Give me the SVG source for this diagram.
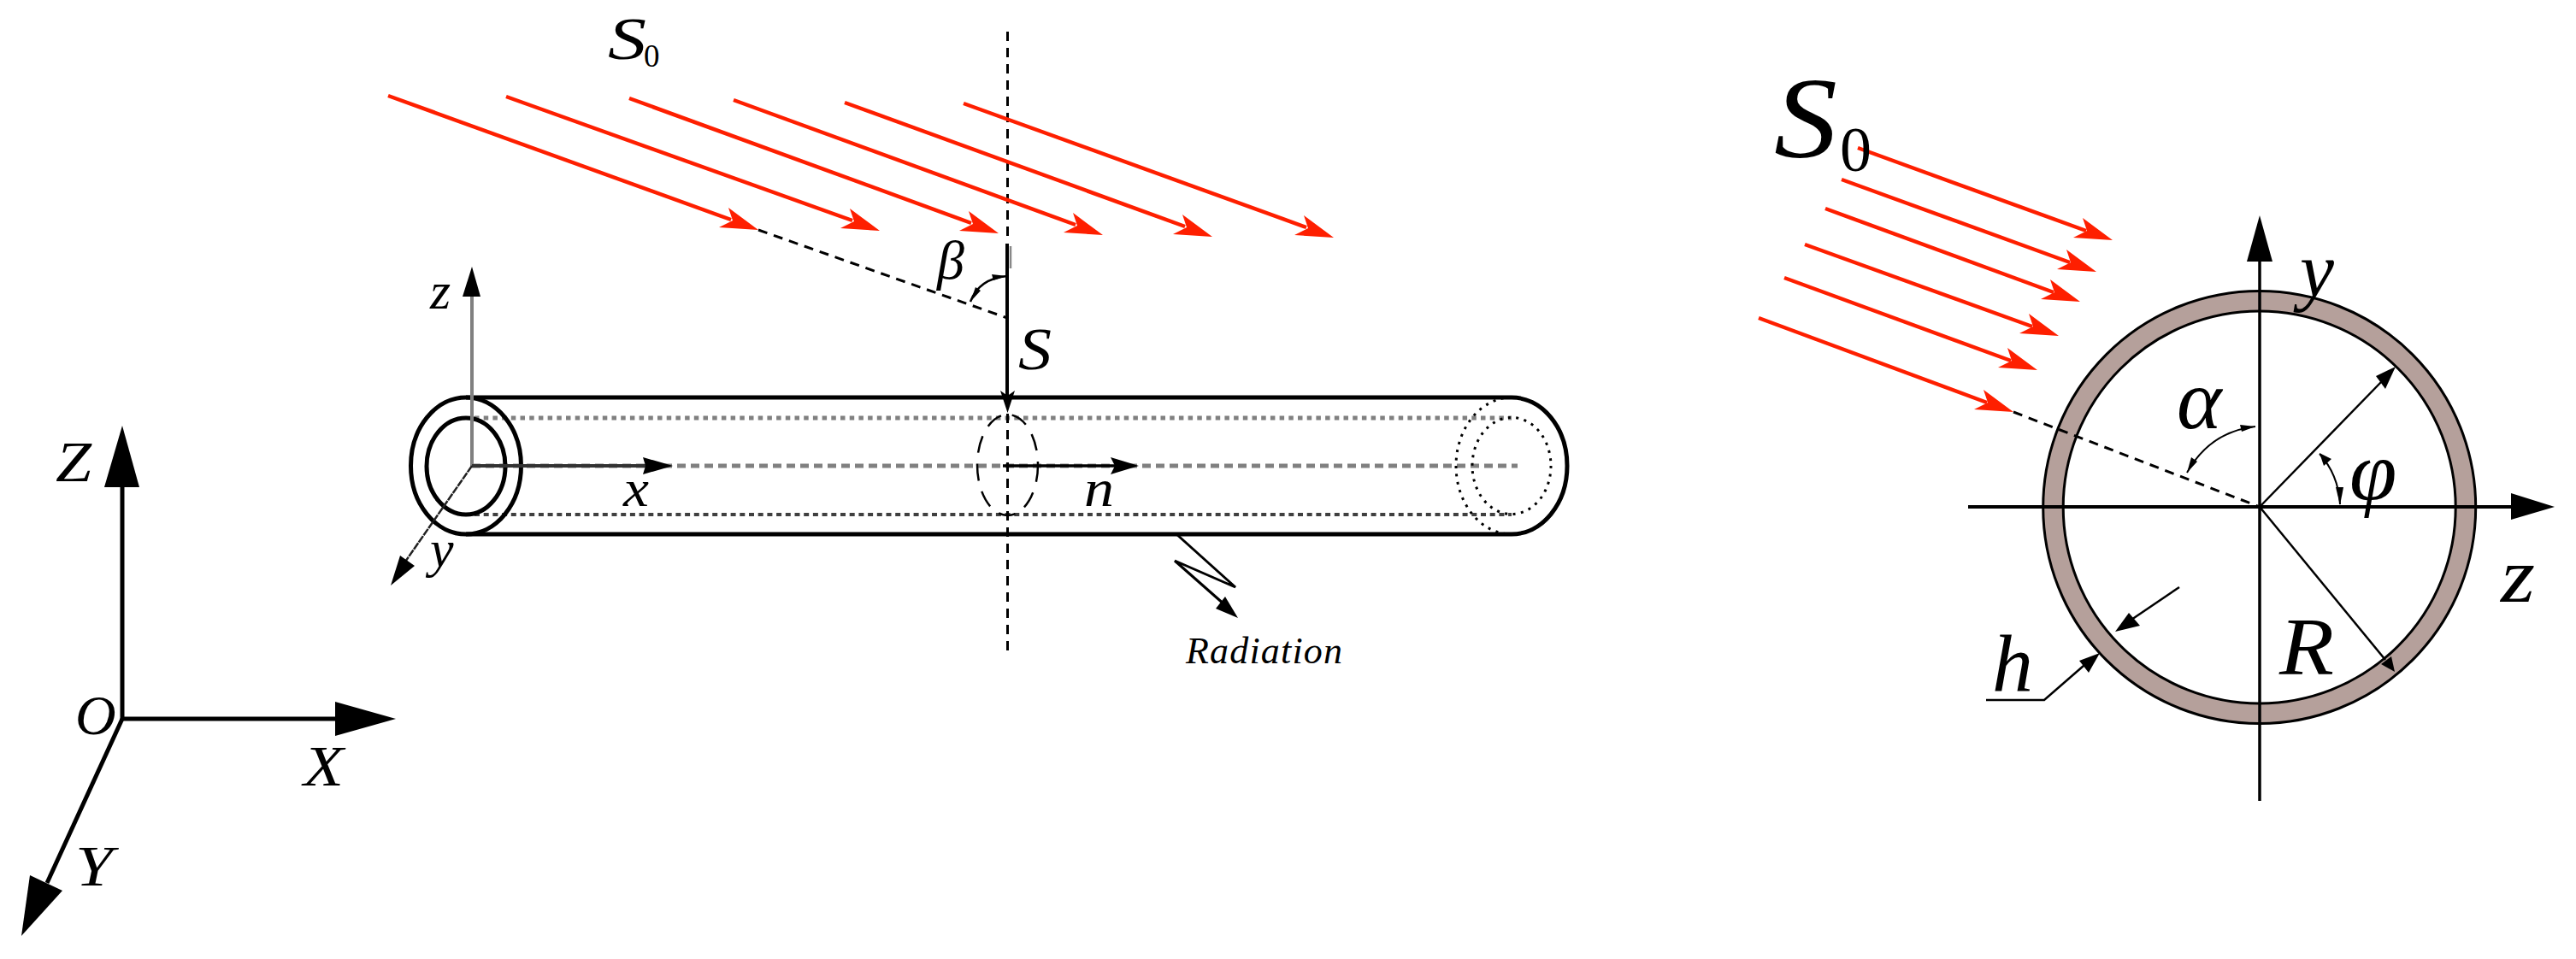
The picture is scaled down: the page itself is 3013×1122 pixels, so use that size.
<svg xmlns="http://www.w3.org/2000/svg" width="3013" height="1122" viewBox="0 0 3013 1122">
<style>
.t{font-family:"Liberation Serif",serif;font-style:italic;fill:#000}
.u{font-family:"Liberation Serif",serif;fill:#000}
.k{fill:none;stroke:#000;stroke-linecap:butt}
.r{stroke:#fe1f00;stroke-width:4.5;fill:none}
.d{fill:none;stroke:#000;stroke-width:3;stroke-dasharray:11 8}
.h{fill:#000}
</style>
<defs>
<polygon id="rh" fill="#fe1f00" points="0,0 -35,-26 -30,-11 -46,-3"/>
</defs>
<rect width="3013" height="1122" fill="#fff"/>

<g id="global-axes">
<line class="k" x1="143" y1="565" x2="143" y2="843" stroke-width="5"/>
<polygon class="h" points="143,498 163,570 122,570"/>
<line class="k" x1="143" y1="841" x2="395" y2="841" stroke-width="5"/>
<polygon class="h" points="463,841 392,821 392,861"/>
<line class="k" x1="143" y1="841" x2="55" y2="1033" stroke-width="5"/>
<polygon class="h" points="25,1095 35,1024 73,1042"/>
<text class="t" x="65" y="563" font-size="68" textLength="42" lengthAdjust="spacingAndGlyphs">Z</text>
<text class="t" x="88" y="859" font-size="66">O</text>
<text class="t" x="355" y="919" font-size="68" textLength="47" lengthAdjust="spacingAndGlyphs">X</text>
<text class="t" x="88" y="1036" font-size="68" textLength="44" lengthAdjust="spacingAndGlyphs">Y</text>
</g>

<g id="tube">
<line x1="552" y1="545" x2="1775" y2="545" stroke="#808080" stroke-width="5" stroke-dasharray="10 6"/>
<line x1="555" y1="489" x2="1768" y2="489" stroke="#808080" stroke-width="5" stroke-dasharray="5.5 5.2"/>
<line x1="555" y1="602" x2="1768" y2="602" stroke="#404040" stroke-width="4" stroke-dasharray="6 4.7"/>
<line class="k" x1="545" y1="465" x2="1768" y2="465" stroke-width="5"/>
<line class="k" x1="545" y1="625" x2="1768" y2="625" stroke-width="5"/>
<path class="k" d="M1768 465A65 80 0 0 1 1768 625" stroke-width="5"/>
<ellipse class="k" cx="545" cy="545" rx="64.5" ry="80" stroke-width="5"/>
<ellipse class="k" cx="545" cy="545.5" rx="46" ry="56.5" stroke-width="5"/>
<path class="k" d="M1768 465A65 80 0 0 0 1768 625" stroke-width="3" stroke-dasharray="3 6.5"/>
<ellipse class="k" cx="1768" cy="545" rx="46" ry="56.5" stroke-width="3" stroke-dasharray="3 6.5"/>
<ellipse class="k" cx="1178.5" cy="544" rx="35.5" ry="59" stroke="#222" stroke-width="2.5" stroke-dasharray="20 13"/>
</g>

<g id="local-axes">
<line x1="552" y1="345" x2="552" y2="545" stroke="#808080" stroke-width="4"/>
<polygon class="h" points="552,312 562,347 541,347"/>
<line x1="552" y1="545" x2="755" y2="545" stroke="#333" stroke-width="4"/>
<polygon class="h" points="787,545 752,535 755,545 752,555"/>
<line x1="552" y1="545" x2="472" y2="660" stroke="#222" stroke-width="2.5" stroke-dasharray="9 1"/>
<polygon class="h" points="457,685 468,650 485,662"/>
<text class="t" x="503" y="361" font-size="62">z</text>
<text class="t" x="729" y="592" font-size="62" textLength="30" lengthAdjust="spacingAndGlyphs">x</text>
<text class="t" x="503" y="663" font-size="62">y</text>
</g>

<g id="connectors">
<line class="d" x1="1178.5" y1="37" x2="1178.5" y2="278" stroke-width="4" stroke-dasharray="13 8"/>
<line class="d" x1="1178.5" y1="484" x2="1178.5" y2="768" stroke-width="4" stroke-dasharray="13 8"/>
<line class="k" x1="1178" y1="285" x2="1178" y2="470" stroke-width="4"/>
<line x1="1182" y1="288" x2="1182" y2="314" stroke="#888" stroke-width="2.5"/>
<polygon class="h" points="1178.5,483 1170,457 1178.5,463 1187,457"/>
<line class="d" x1="887" y1="269" x2="1178" y2="372"/>
<path class="k" d="M1135 353Q1145 326 1178 323" stroke-width="2.5"/>
<polygon class="h" points="1178,323 1160,321 1162,328"/>
<polygon class="h" points="1135,353 1141,336 1147,340"/>
<line class="k" x1="1173" y1="545" x2="1305" y2="545" stroke-width="3.5"/>
<polygon class="h" points="1332,545 1299,535 1304,545 1299,555"/>
<polyline class="k" points="1375,624 1445,687 1374,656 1433,708" stroke-width="3"/>
<polygon class="h" points="1448,723 1433,698 1422,712"/>
<g id="red-rays-left">
<line class="r" x1="454" y1="112" x2="855" y2="257"/><use href="#rh" x="887" y="269"/>
<line class="r" x1="592" y1="113" x2="997" y2="258"/><use href="#rh" x="1029" y="270"/>
<line class="r" x1="736" y1="115" x2="1136" y2="261"/><use href="#rh" x="1168" y="273"/>
<line class="r" x1="858" y1="117" x2="1258" y2="263"/><use href="#rh" x="1290" y="275"/>
<line class="r" x1="988" y1="120" x2="1386" y2="265"/><use href="#rh" x="1418" y="277"/>
<line class="r" x1="1127" y1="121" x2="1528" y2="266"/><use href="#rh" x="1560" y="278"/>
</g>
</g>

<g id="labels-left">
<text class="t" x="711" y="69" font-size="70" textLength="45" lengthAdjust="spacingAndGlyphs">S</text>
<text class="u" x="753" y="78" font-size="37">0</text>
<text class="t" x="1096" y="326" font-size="64">β</text>
<text class="t" x="1191" y="432" font-size="70" textLength="39" lengthAdjust="spacingAndGlyphs">S</text>
<text class="t" x="1268" y="592" font-size="62" textLength="35" lengthAdjust="spacingAndGlyphs">n</text>
<text class="t" x="1387" y="776" font-size="44" textLength="183" lengthAdjust="spacing">Radiation</text>
</g>

<g id="cross-section">
<circle cx="2642.7" cy="593.5" r="253" fill="#b5a09b" stroke="#000" stroke-width="3"/>
<circle cx="2642.7" cy="593.5" r="229.5" fill="#fff" stroke="#000" stroke-width="3"/>
<line class="k" x1="2302" y1="593" x2="2940" y2="593" stroke-width="4"/>
<polygon class="h" points="2988,593 2937,577 2937,608"/>
<line class="k" x1="2643" y1="300" x2="2643" y2="937" stroke-width="3.5"/>
<polygon class="h" points="2643,252 2658,306 2628,306"/>
<line class="d" x1="2355" y1="482" x2="2643" y2="593" stroke-dasharray="13 9"/>
<line class="k" x1="2643" y1="593" x2="2785" y2="447" stroke-width="2.5"/>
<polygon class="h" points="2802,429 2779,440 2790,455"/>
<line class="k" x1="2643" y1="593" x2="2790" y2="772" stroke-width="2.5"/>
<polygon class="h" points="2801,786 2785,777 2797,768"/>
<path class="k" d="M2558 553Q2585 505 2638 499" stroke-width="2"/>
<polygon class="h" points="2638,499 2620,497 2622,505"/>
<polygon class="h" points="2558,553 2563,535 2570,540"/>
<path class="k" d="M2713 531Q2735 555 2737 590" stroke-width="2"/>
<polygon class="h" points="2713,530 2727,537 2718,545"/>
<polygon class="h" points="2737,591 2732,570 2741,570"/>
<polyline class="k" points="2323,819 2391,819 2445,772" stroke-width="2.5"/>
<polygon class="h" points="2456,764 2432,773 2443,787"/>
<line class="k" x1="2549" y1="687" x2="2490" y2="727" stroke-width="2.5"/>
<polygon class="h" points="2474,739 2490,717 2503,732"/>
<g id="red-rays-right">
<line class="r" x1="2173" y1="173" x2="2440" y2="270"/><use href="#rh" x="2471" y="281"/>
<line class="r" x1="2154" y1="210" x2="2421" y2="307"/><use href="#rh" x="2452" y="318"/>
<line class="r" x1="2135" y1="244" x2="2402" y2="342"/><use href="#rh" x="2433" y="353"/>
<line class="r" x1="2111" y1="286" x2="2377" y2="382"/><use href="#rh" x="2408" y="393"/>
<line class="r" x1="2087" y1="325" x2="2352" y2="422"/><use href="#rh" x="2383" y="433"/>
<line class="r" x1="2057" y1="372" x2="2324" y2="471"/><use href="#rh" x="2355" y="482"/>
</g>
<text class="t" x="2075" y="184" font-size="135" textLength="74" lengthAdjust="spacingAndGlyphs">S</text>
<text class="u" x="2152" y="200" font-size="74">0</text>
<text class="t" x="2546" y="501" font-size="100">α</text>
<text class="t" x="2748" y="585" font-size="100">φ</text>
<text class="t" x="2690" y="347" font-size="90">y</text>
<text class="t" x="2925" y="704" font-size="92" textLength="40" lengthAdjust="spacingAndGlyphs">z</text>
<text class="t" x="2330" y="809" font-size="96">h</text>
<text class="t" x="2666" y="789" font-size="95" textLength="64" lengthAdjust="spacingAndGlyphs">R</text>
</g>
</svg>
